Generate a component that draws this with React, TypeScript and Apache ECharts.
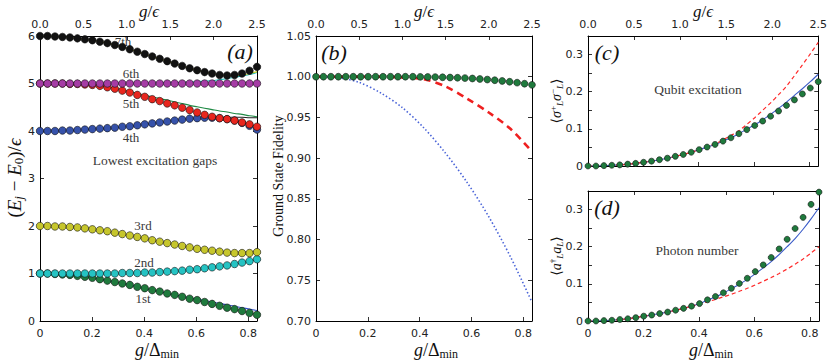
import React, { useEffect, useRef } from 'react';
import * as echarts from 'echarts';

// ---------- data ----------
const XMAX = 2.5 / 3; // g/Δmin at g/ε = 2.5

// sample points in g/Δmin (30 points)
const gDelta = [
  0, 0.0287, 0.0575, 0.0862, 0.1149, 0.1437, 0.1724, 0.2011, 0.2299, 0.2586,
  0.2874, 0.3161, 0.3448, 0.3736, 0.4023, 0.431, 0.4598, 0.4885, 0.5172, 0.546,
  0.5747, 0.6034, 0.6322, 0.6609, 0.6897, 0.7184, 0.7471, 0.7759, 0.8046, 0.8333,
];
// sample points in g/ε for the fidelity curves
const gEps = [0, 0.25, 0.5, 0.75, 1.0, 1.25, 1.5, 1.75, 2.0, 2.25, 2.5];

// panel (a): excitation gaps, numerical (dots) and analytic (lines)
const gap1Dots = [1.0, 1.0, 0.99, 0.98, 0.97, 0.95, 0.93, 0.91, 0.88, 0.85, 0.82, 0.79, 0.76, 0.72, 0.69, 0.65, 0.62, 0.58, 0.55, 0.51, 0.47, 0.44, 0.4, 0.36, 0.32, 0.28, 0.25, 0.21, 0.17, 0.13];
const gap1Line = [1.0, 1.0, 0.99, 0.98, 0.97, 0.95, 0.93, 0.91, 0.88, 0.85, 0.82, 0.79, 0.76, 0.72, 0.69, 0.65, 0.62, 0.58, 0.55, 0.52, 0.49, 0.46, 0.43, 0.4, 0.37, 0.34, 0.31, 0.28, 0.25, 0.22];
const gap2Dots = [1.0, 1.0, 1.0, 1.0, 1.0, 1.0, 1.0, 1.0, 1.0, 1.0, 1.0, 1.01, 1.01, 1.01, 1.02, 1.02, 1.03, 1.04, 1.05, 1.06, 1.08, 1.09, 1.11, 1.13, 1.15, 1.17, 1.2, 1.23, 1.26, 1.3];
const gap2Line = [1.0, 1.0, 1.0, 1.0, 1.0, 1.0, 1.0, 1.0, 1.0, 1.0, 1.0, 1.01, 1.01, 1.01, 1.02, 1.02, 1.03, 1.04, 1.05, 1.06, 1.08, 1.09, 1.11, 1.13, 1.15, 1.17, 1.2, 1.23, 1.26, 1.3];
const gap3Dots = [2.0, 2.0, 1.99, 1.99, 1.98, 1.97, 1.95, 1.93, 1.91, 1.89, 1.86, 1.83, 1.8, 1.77, 1.74, 1.7, 1.67, 1.64, 1.61, 1.58, 1.55, 1.52, 1.5, 1.48, 1.46, 1.44, 1.43, 1.43, 1.43, 1.45];
const gap3Line = [2.0, 2.0, 1.99, 1.99, 1.98, 1.97, 1.95, 1.93, 1.91, 1.89, 1.86, 1.83, 1.8, 1.77, 1.74, 1.7, 1.67, 1.64, 1.61, 1.58, 1.55, 1.52, 1.5, 1.48, 1.46, 1.44, 1.44, 1.44, 1.45, 1.46];
const gap4Dots = [4.0, 4.0, 4.0, 4.01, 4.01, 4.02, 4.03, 4.04, 4.05, 4.06, 4.07, 4.09, 4.1, 4.12, 4.14, 4.16, 4.18, 4.2, 4.22, 4.24, 4.26, 4.27, 4.28, 4.28, 4.27, 4.25, 4.22, 4.17, 4.11, 4.03];
const gap4Line = [4.0, 4.0, 4.0, 4.01, 4.01, 4.02, 4.03, 4.04, 4.05, 4.06, 4.07, 4.09, 4.1, 4.12, 4.14, 4.16, 4.18, 4.2, 4.22, 4.24, 4.26, 4.27, 4.28, 4.29, 4.29, 4.29, 4.29, 4.29, 4.28, 4.28];
const gap5Dots = [5.0, 5.0, 5.0, 5.0, 4.99, 4.99, 4.98, 4.97, 4.95, 4.92, 4.89, 4.85, 4.81, 4.76, 4.72, 4.67, 4.63, 4.58, 4.54, 4.49, 4.44, 4.39, 4.34, 4.3, 4.27, 4.25, 4.22, 4.18, 4.14, 4.09];
const gap5Line = [5.0, 5.0, 5.0, 5.0, 4.99, 4.99, 4.98, 4.97, 4.95, 4.93, 4.9, 4.87, 4.83, 4.79, 4.75, 4.72, 4.68, 4.65, 4.61, 4.58, 4.54, 4.51, 4.48, 4.45, 4.42, 4.4, 4.37, 4.35, 4.32, 4.3];
const gap6Dots = [5.0, 5.0, 5.0, 5.0, 5.0, 5.0, 5.0, 5.0, 5.0, 5.0, 5.0, 5.0, 5.0, 5.0, 5.0, 5.0, 5.0, 5.0, 5.0, 5.0, 5.0, 5.0, 5.0, 5.0, 5.0, 5.0, 5.0, 5.0, 5.0, 5.0];
const gap6Line = [5.0, 5.0, 5.0, 5.0, 5.0, 5.0, 5.0, 5.0, 5.0, 5.0, 5.0, 5.0, 5.0, 5.0, 5.0, 5.005, 5.01, 5.015, 5.02, 5.025, 5.03, 5.04, 5.05, 5.06, 5.08, 5.1, 5.13, 5.16, 5.19, 5.23];
const gap7Dots = [6.0, 6.0, 5.99, 5.98, 5.97, 5.95, 5.93, 5.91, 5.88, 5.85, 5.81, 5.77, 5.72, 5.67, 5.62, 5.57, 5.52, 5.47, 5.42, 5.37, 5.32, 5.28, 5.24, 5.21, 5.18, 5.17, 5.18, 5.21, 5.27, 5.35];
const gap7Line = [6.0, 6.0, 5.99, 5.98, 5.97, 5.95, 5.93, 5.91, 5.88, 5.85, 5.81, 5.77, 5.72, 5.67, 5.62, 5.57, 5.52, 5.47, 5.42, 5.37, 5.32, 5.28, 5.24, 5.21, 5.18, 5.17, 5.17, 5.18, 5.21, 5.25];

// panel (b): ground state fidelity
const fidDots = [1, 1, 1, 1, 1, 1, 1, 1, 1, 1, 1, 1, 1, 1, 0.9998, 0.9997, 0.9995, 0.9993, 0.999, 0.9987, 0.9983, 0.9978, 0.9972, 0.9965, 0.9957, 0.9948, 0.9938, 0.9927, 0.9914, 0.99];
const fidDashed = [1.0, 1.0, 1.0, 1.0, 0.999, 0.997, 0.988, 0.973, 0.956, 0.936, 0.908];
const fidDotted = [1.0, 0.999, 0.993, 0.98, 0.962, 0.937, 0.906, 0.87, 0.828, 0.779, 0.723];

// panel (c): qubit excitation
const qubitDots = [0, 0, 0.001, 0.002, 0.003, 0.005, 0.007, 0.01, 0.013, 0.017, 0.021, 0.026, 0.031, 0.037, 0.044, 0.051, 0.058, 0.067, 0.076, 0.087, 0.098, 0.109, 0.121, 0.134, 0.148, 0.163, 0.178, 0.194, 0.21, 0.227];
const qubitSolid = [0, 0, 0.001, 0.002, 0.003, 0.005, 0.007, 0.01, 0.013, 0.017, 0.021, 0.026, 0.031, 0.037, 0.044, 0.051, 0.058, 0.067, 0.076, 0.087, 0.099, 0.111, 0.124, 0.139, 0.155, 0.172, 0.19, 0.208, 0.227, 0.247];
const qubitDashed = [0, 0, 0.001, 0.002, 0.003, 0.005, 0.007, 0.01, 0.013, 0.017, 0.021, 0.026, 0.031, 0.037, 0.044, 0.052, 0.06, 0.07, 0.082, 0.095, 0.112, 0.13, 0.15, 0.17, 0.192, 0.215, 0.243, 0.272, 0.302, 0.333];

// panel (d): photon number
const photonDots = [0, 0, 0.001, 0.002, 0.004, 0.006, 0.009, 0.013, 0.016, 0.02, 0.024, 0.029, 0.034, 0.04, 0.047, 0.057, 0.066, 0.076, 0.088, 0.101, 0.115, 0.133, 0.151, 0.171, 0.194, 0.22, 0.249, 0.279, 0.314, 0.347];
const photonSolid = [0, 0, 0.001, 0.002, 0.004, 0.006, 0.009, 0.013, 0.016, 0.02, 0.024, 0.029, 0.034, 0.04, 0.047, 0.056, 0.065, 0.075, 0.087, 0.099, 0.112, 0.127, 0.143, 0.16, 0.179, 0.2, 0.222, 0.247, 0.275, 0.305];
const photonDashed = [0, 0, 0.001, 0.002, 0.004, 0.006, 0.009, 0.013, 0.016, 0.02, 0.024, 0.029, 0.034, 0.04, 0.046, 0.052, 0.058, 0.065, 0.072, 0.08, 0.088, 0.097, 0.107, 0.117, 0.128, 0.14, 0.153, 0.167, 0.183, 0.2];

// ---------- styling ----------
const SANS = "'DejaVu Sans', sans-serif";
const SERIF = "'Liberation Serif', 'DejaVu Serif', serif";
const INK = '#000';
const TXT = '#3a3a3a';

const pair = (xs: number[], ys: number[]) => xs.map((x, i) => [x, ys[i]]);

const near = (v: number, step: number) => Math.abs(v / step - Math.round(v / step)) < 1e-6;

const lineStyle = { color: INK, width: 1 };
const tickStyle = { show: true, inside: true, length: 4, lineStyle: { color: INK, width: 0.8 } };
const labelBase = { fontFamily: SANS, fontSize: 11, lineHeight: 10, color: '#222' };

function xDelta(grid: number, show: boolean) {
  return {
    type: 'value', gridIndex: grid, position: 'bottom', min: 0, max: XMAX, interval: 0.2,
    axisLine: { show: true, onZero: false, lineStyle },
    axisTick: tickStyle,
    axisLabel: {
      show, ...labelBase, margin: 7,
      formatter: (v: number) => (near(v, 0.2) ? (v === 0 ? '0' : v.toFixed(1)) : ''),
    },
    splitLine: { show: false },
  };
}
function xEps(grid: number, show: boolean) {
  return {
    type: 'value', gridIndex: grid, position: 'top', min: 0, max: 2.5, interval: 0.5,
    axisLine: { show: true, onZero: false, lineStyle },
    axisTick: tickStyle,
    axisLabel: { show, ...labelBase, margin: 7, formatter: (v: number) => v.toFixed(1) },
    splitLine: { show: false },
  };
}
function yAxis(grid: number, pos: 'left' | 'right', min: number, max: number, interval: number, fmt: (v: number) => string) {
  return {
    type: 'value', gridIndex: grid, position: pos, min, max, interval,
    axisLine: { show: true, onZero: false, lineStyle },
    axisTick: tickStyle,
    axisLabel: { show: pos === 'left', ...labelBase, margin: 5, formatter: fmt },
    splitLine: { show: false },
  };
}

const fmtInt = (v: number) => String(Math.round(v));
const fmtFid = (v: number) => v.toFixed(2);
const fmtSmall = (v: number) => (near(v, 0.1) ? (Math.abs(v) < 1e-9 ? '0' : v.toFixed(1)) : '');

function lineSeries(name: string, xi: number, yi: number, xs: number[], ys: number[], color: string, width: number, type: any = 'solid') {
  return {
    name, type: 'line', xAxisIndex: xi, yAxisIndex: yi, data: pair(xs, ys),
    showSymbol: false, symbol: 'none', smooth: 0.3, z: 2, silent: true,
    lineStyle: { color, width, type },
  };
}
function dotSeries(name: string, xi: number, yi: number, xs: number[], ys: number[], color: string, size: number) {
  return {
    name, type: 'scatter', xAxisIndex: xi, yAxisIndex: yi, data: pair(xs, ys),
    symbol: 'circle', symbolSize: size, z: 3, silent: true,
    itemStyle: { color, borderColor: '#111', borderWidth: 0.6, opacity: 1 },
  };
}

const C = {
  green: '#1f7a3d', cyan: '#25c3c3', yellow: '#c6c62c', blue: '#3652aa', red: '#e8261e', magenta: '#a53ca5', black: '#121212',
};

function mathRich(size: number) {
  const sub = Math.round(size * 0.66);
  return {
    i: { fontFamily: SERIF, fontStyle: 'italic', fontSize: size, lineHeight: size + 2, fill: '#111' },
    n: { fontFamily: SERIF, fontSize: size, lineHeight: size + 2, fill: '#111' },
    sb: { fontFamily: SERIF, fontSize: sub, lineHeight: sub - 1, verticalAlign: 'bottom', fill: '#111' },
    sbi: { fontFamily: SERIF, fontStyle: 'italic', fontSize: sub, lineHeight: sub - 1, verticalAlign: 'bottom', fill: '#111' },
    sp: { fontFamily: SERIF, fontSize: sub, lineHeight: sub - 1, verticalAlign: 'top', fill: '#111' },
  };
}

function mathText(x: number, y: number, text: string, size: number, rotate = false) {
  return {
    type: 'text', x, y, rotation: rotate ? Math.PI / 2 : 0, silent: true,
    style: { text, align: 'center', verticalAlign: 'middle', rich: mathRich(size) },
  };
}
function note(x: number, y: number, text: string, size = 13, italic = false, color = TXT) {
  return {
    type: 'text', x, y, silent: true,
    style: {
      text, align: 'center', verticalAlign: 'middle', fill: color,
      fontFamily: SERIF, fontSize: size, fontStyle: italic ? 'italic' : 'normal',
    },
  };
}

export default function App() {
  const ref = useRef<HTMLDivElement>(null);
  useEffect(() => {
    if (!ref.current) return;
    const chart = echarts.init(ref.current, null, { renderer: 'svg' });
    const option: any = {
      animation: false,
      backgroundColor: '#fff',
      grid: [
        { left: 40, top: 36, width: 217, height: 285 },
        { left: 316, top: 36, width: 216, height: 285 },
        { left: 588, top: 36, width: 231, height: 130 },
        { left: 588, top: 191, width: 231, height: 130 },
      ],
      xAxis: [
        xDelta(0, true), xEps(0, true),
        xDelta(1, true), xEps(1, true),
        xDelta(2, false), xEps(2, true),
        xDelta(3, true), xEps(3, false),
      ],
      yAxis: [
        yAxis(0, 'left', 0, 6, 1, fmtInt), yAxis(0, 'right', 0, 6, 1, fmtInt),
        yAxis(1, 'left', 0.7, 1.05, 0.05, fmtFid), yAxis(1, 'right', 0.7, 1.05, 0.05, fmtFid),
        yAxis(2, 'left', 0, 0.35, 0.05, fmtSmall), yAxis(2, 'right', 0, 0.35, 0.05, fmtSmall),
        yAxis(3, 'left', 0, 0.35, 0.05, fmtSmall), yAxis(3, 'right', 0, 0.35, 0.05, fmtSmall),
      ],
      series: [
        // panel (a) lines
        lineSeries('1st analytic', 0, 0, gDelta, gap1Line, '#3150c8', 1.1),
        lineSeries('2nd analytic', 0, 0, gDelta, gap2Line, '#c83030', 1.1),
        lineSeries('3rd analytic', 0, 0, gDelta, gap3Line, '#c842c8', 1.1),
        lineSeries('4th analytic', 0, 0, gDelta, gap4Line, '#222222', 1.1),
        lineSeries('5th analytic', 0, 0, gDelta, gap5Line, '#1f8a45', 1.1),
        lineSeries('6th analytic', 0, 0, gDelta, gap6Line, '#20bcbc', 1.1),
        lineSeries('7th analytic', 0, 0, gDelta, gap7Line, '#cccc22', 1.1),
        // panel (a) dots
        dotSeries('1st', 0, 0, gDelta, gap1Dots, C.green, 7.5),
        dotSeries('2nd', 0, 0, gDelta, gap2Dots, C.cyan, 7.5),
        dotSeries('3rd', 0, 0, gDelta, gap3Dots, C.yellow, 7.5),
        dotSeries('4th', 0, 0, gDelta, gap4Dots, C.blue, 7.5),
        dotSeries('5th', 0, 0, gDelta, gap5Dots, C.red, 7.5),
        dotSeries('6th', 0, 0, gDelta, gap6Dots, C.magenta, 7.5),
        dotSeries('7th', 0, 0, gDelta, gap7Dots, C.black, 7.5),
        // panel (b)
        lineSeries('fidelity dotted', 3, 2, gEps, fidDotted, '#4a64d8', 1.6, [1.5, 2.2]),
        lineSeries('fidelity dashed', 3, 2, gEps, fidDashed, '#ee2020', 2.6, [7, 5]),
        dotSeries('fidelity', 2, 2, gDelta, fidDots, C.green, 6.8),
        // panel (c)
        lineSeries('qubit solid', 4, 4, gDelta, qubitSolid, '#3a5bc8', 1.1),
        lineSeries('qubit dashed', 4, 4, gDelta, qubitDashed, '#ff2a2a', 1.2, [4, 3]),
        dotSeries('qubit', 4, 4, gDelta, qubitDots, C.green, 6),
        // panel (d)
        lineSeries('photon solid', 6, 6, gDelta, photonSolid, '#3a5bc8', 1.1),
        lineSeries('photon dashed', 6, 6, gDelta, photonDashed, '#ff2a2a', 1.2, [4, 3]),
        dotSeries('photon', 6, 6, gDelta, photonDots, C.green, 6),
      ],
      graphic: [
        // axis titles
        mathText(149, 11, '{i|g}{n|/}{i|ϵ}', 17),
        mathText(424, 11, '{i|g}{n|/}{i|ϵ}', 17),
        mathText(703, 11, '{i|g}{n|/}{i|ϵ}', 17),
        mathText(157, 350, '{i|g}{n|/Δ}{sb|min}', 18),
        mathText(436, 350, '{i|g}{n|/Δ}{sb|min}', 18),
        mathText(711, 350, '{i|g}{n|/Δ}{sb|min}', 18),
        mathText(14, 178, '{n|(}{i|E}{sbi|j}{n| − }{i|E}{sb|0}{n|)/}{i|ϵ}', 19, true),
        {
          type: 'text', x: 278, y: 176, rotation: Math.PI / 2, silent: true,
          style: { text: 'Ground State Fidelity', align: 'center', verticalAlign: 'middle', fill: '#111', fontFamily: SERIF, fontSize: 14 },
        },
        mathText(556, 101, '{n|⟨}{i|σ}{sp|+}{sbi|L}{i|σ}{sp|−}{sbi|L}{n|⟩}', 14, true),
        mathText(556, 256, '{n|⟨}{i|a}{sp|†}{sbi|L}{i|a}{sbi|L}{n|⟩}', 14, true),
        // annotations panel (a)
        note(123, 41, '7th'),
        note(131, 73, '6th'),
        note(131, 103, '5th'),
        note(131, 137, '4th'),
        note(155, 160, 'Lowest excitation gaps', 13.5),
        note(143, 225, '3rd'),
        note(144, 262, '2nd'),
        note(143, 298, '1st'),
        // panel letters
        note(240, 51, '(a)', 22, true, '#111'),
        note(334, 52, '(b)', 22, true, '#111'),
        note(607, 52, '(c)', 22, true, '#111'),
        note(607, 207, '(d)', 22, true, '#111'),
        note(698, 89, 'Qubit excitation', 13.5),
        note(697, 250, 'Photon number', 13.5),
      ],
    };
    chart.setOption(option);
    return () => chart.dispose();
  }, []);
  return <div ref={ref} style={{ position: 'fixed', left: 0, top: 0, width: 830, height: 362, background: '#fff' }} />;
}
